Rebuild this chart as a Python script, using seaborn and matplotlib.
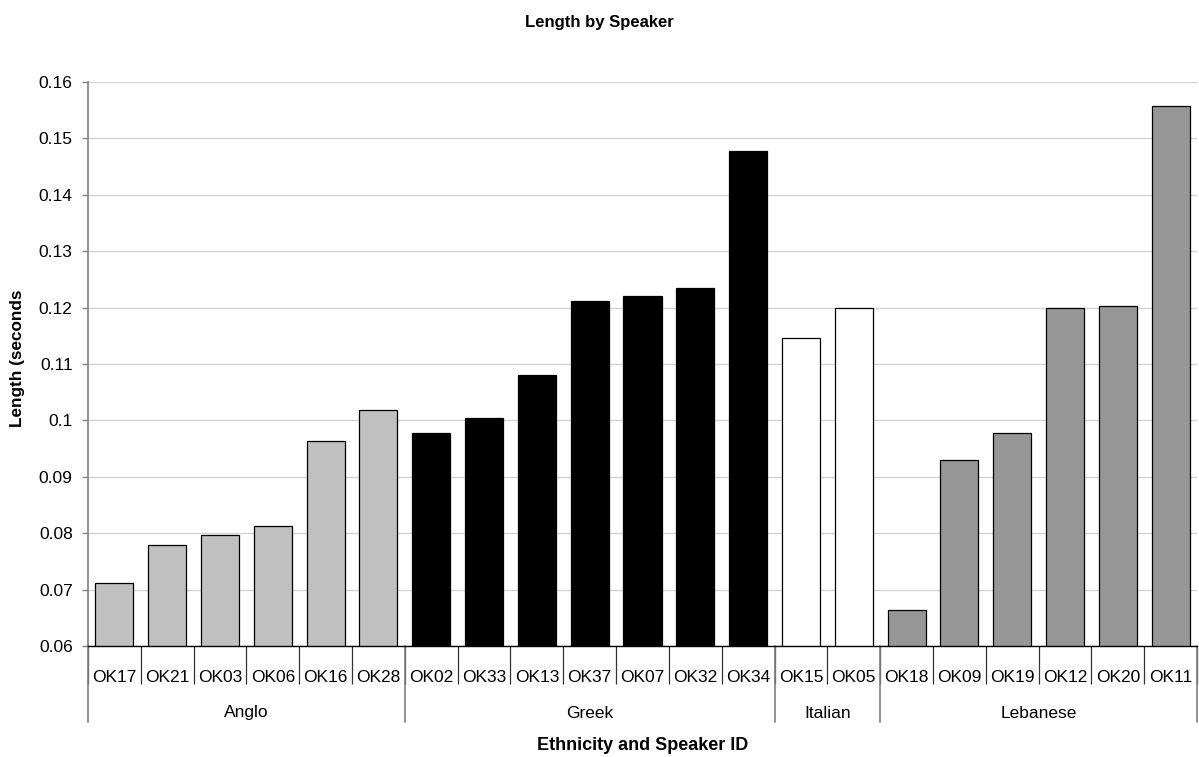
import matplotlib
matplotlib.use("Agg")
import matplotlib.pyplot as plt
import seaborn as sns
import pandas as pd
import numpy as np

speakers = ["OK17", "OK21", "OK03", "OK06", "OK16", "OK28",
            "OK02", "OK33", "OK13", "OK37", "OK07", "OK32", "OK34",
            "OK15", "OK05",
            "OK18", "OK09", "OK19", "OK12", "OK20", "OK11"]
ethnicity = (["Anglo"] * 6 + ["Greek"] * 7 + ["Italian"] * 2 + ["Lebanese"] * 6)
lengths = [0.0711, 0.0779, 0.0797, 0.0812, 0.0964, 0.1018,
           0.0977, 0.1005, 0.1081, 0.1212, 0.1220, 0.1234, 0.1477,
           0.1146, 0.1200,
           0.0663, 0.0929, 0.0977, 0.1200, 0.1203, 0.1558]
groups = ["Anglo", "Greek", "Italian", "Lebanese"]
colors = {"Anglo": "#C0C0C0", "Greek": "#000000", "Italian": "#FFFFFF", "Lebanese": "#969696"}
yticks = [0.06, 0.07, 0.08, 0.09, 0.10, 0.11, 0.12, 0.13, 0.14, 0.15, 0.16]
ytick_labels = ["0.06", "0.07", "0.08", "0.09", "0.1", "0.11", "0.12", "0.13", "0.14", "0.15", "0.16"]

df = pd.DataFrame({"speaker": speakers, "ethnicity": ethnicity, "length": lengths})

sns.set_style("white")
plt.rcParams["font.family"] = ["Liberation Sans", "DejaVu Sans"]
plt.rcParams["text.color"] = "black"

W, H = 1199, 757
fig = plt.figure(figsize=(W / 100, H / 100), dpi=100)
ax_left, ax_right, ax_top, ax_bottom = 88, 1197, 82, 646
ax = fig.add_axes([ax_left / W, 1 - ax_bottom / H, (ax_right - ax_left) / W, (ax_bottom - ax_top) / H])

ax.set_axisbelow(True)
ax.yaxis.grid(True, color="#D4D4D4", linewidth=1.0)
sns.barplot(data=df, x="speaker", y="length", hue="ethnicity", palette=colors,
            dodge=False, width=0.72, edgecolor="black", linewidth=0.9,
            legend=False, ax=ax, order=speakers, hue_order=groups)

n = len(speakers)
ax.set_xlim(-0.5, n - 0.5)
ax.set_ylim(0.06, 0.16)
ax.set_yticks(yticks)
ax.set_yticklabels(ytick_labels)

for s in ["top", "right"]:
    ax.spines[s].set_visible(False)
ax.spines["left"].set_color("#808080")
ax.spines["left"].set_linewidth(1.2)
ax.spines["bottom"].set_color("black")
ax.spines["bottom"].set_linewidth(1.0)

ax.tick_params(axis="y", direction="out", length=4, width=1, color="#808080",
               pad=7, labelsize=12.5, labelcolor="black", left=True)
# category labels centered, boundaries as minor ticks
ax.set_xticks(np.arange(n))
ax.set_xticklabels(speakers)
ax.tick_params(axis="x", which="major", length=0, pad=17, labelsize=12.5, labelcolor="black")
ax.set_xticks(np.arange(n + 1) - 0.5, minor=True)
ax.tick_params(axis="x", which="minor", direction="out", length=27.5, width=0.9, color="#333333", bottom=True)
ax.set_xlabel("")
ax.set_ylabel("")

# group separators and labels
axh = ax_bottom - ax_top
sep_len = 76 / axh
start = 0
bounds = [-0.5]
for g in groups:
    cnt = ethnicity.count(g)
    mid = start + (cnt - 1) / 2
    ax.text(mid, -(713 - ax_bottom) / axh, g, transform=ax.get_xaxis_transform(),
            ha="center", va="center", fontsize=12.5, color="black")
    start += cnt
    bounds.append(start - 0.5)
for b in bounds:
    ax.plot([b, b], [0, -sep_len], transform=ax.get_xaxis_transform(), clip_on=False,
            color="#808080", linewidth=1.2)

ax.text(0.5, -(745 - ax_bottom) / axh, "Ethnicity and Speaker ID", transform=ax.transAxes,
        ha="center", va="center", fontsize=13, fontweight="bold", color="black")
ax.text(-(88 - 18) / (ax_right - ax_left), (646 - 358) / axh, "Length (seconds", transform=ax.transAxes,
        ha="center", va="center", rotation=90, fontsize=12.3, fontweight="bold", color="black")
fig.text(0.5, 1 - 22 / H, "Length by Speaker", ha="center", va="center",
         fontsize=12, fontweight="bold", color="black")

fig.savefig("out.png", dpi=100)
